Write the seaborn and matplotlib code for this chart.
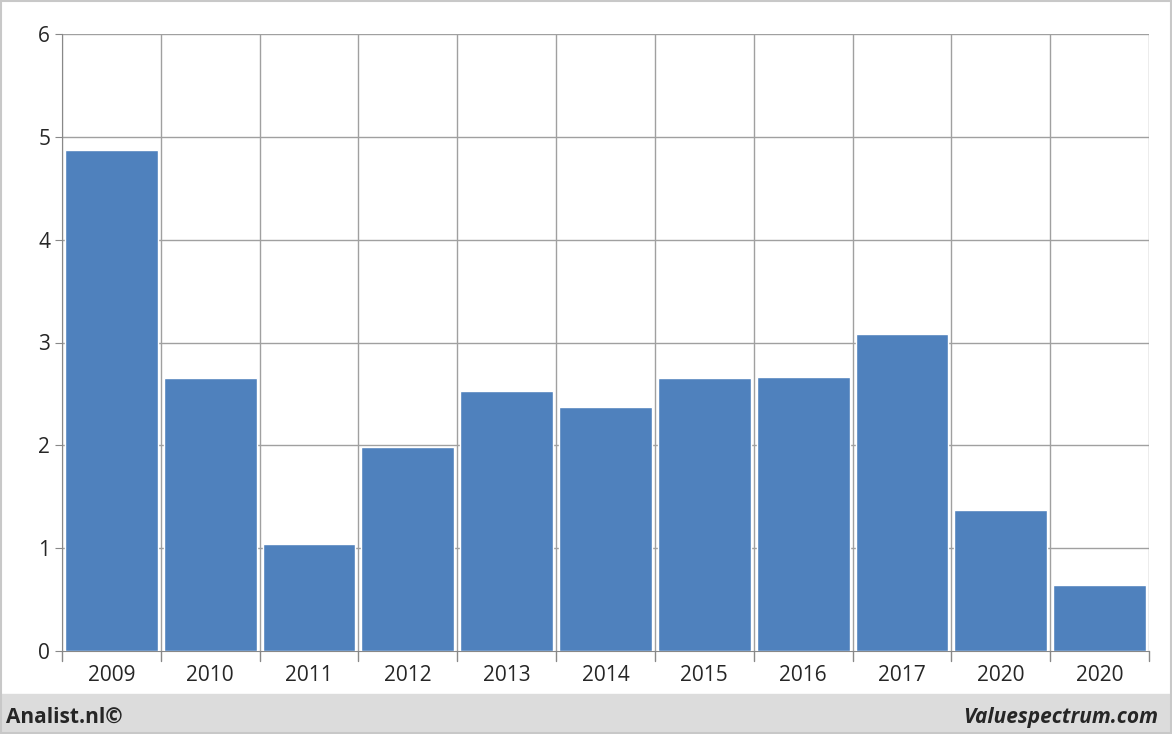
import matplotlib
matplotlib.use("Agg")
import matplotlib.pyplot as plt
import seaborn as sns
import pandas as pd
from matplotlib.patches import Rectangle

years = ["2009", "2010", "2011", "2012", "2013", "2014", "2015", "2016", "2017", "2020", "2020"]
values = [4.87, 2.65, 1.04, 1.98, 2.53, 2.37, 2.65, 2.66, 3.08, 1.37, 0.64]

df = pd.DataFrame({"pos": [str(i) for i in range(len(years))], "value": values})

sns.set_style("white")
plt.rcParams['font.family'] = ['Open Sans', 'DejaVu Sans']

fig = plt.figure(figsize=(11.72, 7.34), dpi=100)
fig.patches.append(Rectangle((0, 0), 1, 40/734, transform=fig.transFigure, color="#dcdcdc", zorder=0))
fig.patches.append(Rectangle((0.001, 0.001), 0.998, 0.998, transform=fig.transFigure, fill=False, edgecolor="#c8c8c8", lw=1.5, zorder=1))

ax = fig.add_axes([62/1172, 83/734, 1087/1172, 617/734])
sns.barplot(data=df, x="pos", y="value", color="#4F81BD", saturation=1, width=0.94, ax=ax, zorder=3)
ax.set_xlim(-0.5, len(years) - 0.5)
ax.set_ylim(0, 6)
ax.set_yticks(range(7))
ax.set_xticks(range(len(years)))
ax.set_xticklabels(years, fontsize=15)
ax.tick_params(axis="y", labelsize=15, length=5, color="#888888", left=True)
ax.tick_params(axis="x", length=0, pad=10)
for b in [i - 0.5 for i in range(len(years) + 1)]:
    ax.axvline(b, color="#a0a0a0", lw=1, zorder=1)
    ax.plot([b, b], [0, -0.1], color="#888888", lw=1, clip_on=False)
for y in range(1, 7):
    ax.axhline(y, color="#a0a0a0", lw=1, zorder=1)
ax.set_xlabel("")
ax.set_ylabel("")
for s in ["top", "right"]:
    ax.spines[s].set_visible(False)
ax.spines["left"].set_color("#888888")
ax.spines["bottom"].set_color("#888888")

fig.text(6/1172, 17/734, "Analist.nl©", fontsize=15, fontweight="bold", va="center", ha="left")
fig.text(1158/1172, 17/734, "Valuespectrum.com", fontsize=15, fontweight="bold", fontstyle="italic", va="center", ha="right")

fig.savefig("out.png", dpi=100)
